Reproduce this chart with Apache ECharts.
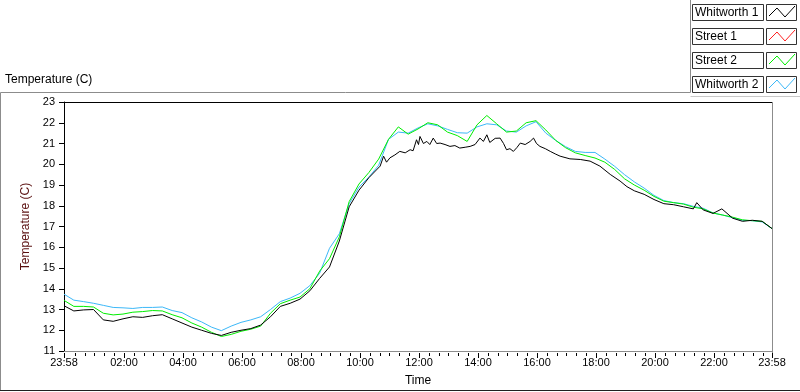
<!DOCTYPE html>
<html>
<head>
<meta charset="utf-8">
<script src="https://cdn.jsdelivr.net/npm/echarts@6/dist/echarts.min.js"></script>
<style>
html, body { margin: 0; padding: 0; background: #fff; }
#chart { width: 800px; height: 392px; }
</style>
</head>
<body>
<div id="chart"></div>
<script>
// minutes since 23:58 (start of log)
var minutes = [0, 20, 40, 60, 80, 100, 120, 140, 160, 180, 200, 220, 240, 260, 280, 300, 320, 340,
    360, 380, 400, 420, 440, 460, 480, 500, 520, 540, 560, 580, 600, 620, 640, 660, 680, 700,
    720, 740, 760, 780, 800, 820, 840, 860, 880, 900, 920, 940, 960, 980, 1000, 1020, 1040, 1060,
    1080, 1100, 1120, 1140, 1160, 1180, 1200, 1220, 1240, 1260, 1280, 1300, 1320, 1340, 1360, 1380,
    1400, 1420, 1440];

// Whitworth 1 is noisier, read at a finer step around midday
var whitworth1Minutes = [0, 20, 40, 60, 80, 100, 120, 140, 160, 180, 200, 220, 240, 260, 280, 300, 320, 340,
    360, 380, 400, 420, 440, 460, 480, 500, 520, 540, 560, 580, 600, 620,
    643, 650, 656, 663, 673, 683, 694, 704, 710, 717, 721, 724, 731, 738, 744, 751, 758, 765, 775, 785,
    795, 805, 816, 826, 836, 846, 853, 860, 866, 877, 887, 894, 900, 907, 914, 921, 928, 938, 948, 955,
    961, 968, 979, 989, 999, 1009, 1029, 1050, 1070, 1090, 1111, 1131, 1145,
    1160, 1180, 1200, 1220, 1240, 1260, 1280, 1287, 1300, 1320, 1338, 1360, 1380, 1400, 1420, 1440];

var whitworth1 = [13.18, 12.93, 12.98, 13.0, 12.5, 12.43, 12.55, 12.65, 12.62, 12.7, 12.75, 12.55, 12.35, 12.15, 12.0, 11.85, 11.75, 11.9,
    12.0, 12.08, 12.25, 12.65, 13.15, 13.3, 13.5, 13.9, 14.5, 15.05, 16.3, 17.95, 18.75, 19.35,
    19.91, 20.39, 20.1, 20.31, 20.45, 20.62, 20.55, 20.7, 20.65, 21.18, 20.95, 21.34, 21.0, 21.1, 20.95, 21.26, 21.0, 21.02, 20.95, 20.86,
    20.9, 20.78, 20.82, 20.86, 20.95, 21.26, 21.1, 21.42, 21.05, 21.25, 21.26, 21.0, 20.7, 20.75, 20.62, 20.8, 21.02, 20.95, 21.1, 21.26,
    21.0, 20.86, 20.75, 20.62, 20.5, 20.39, 20.26, 20.23, 20.15, 19.91, 19.51, 19.19, 18.92,
    18.72, 18.55, 18.3, 18.1, 18.05, 17.95, 17.85, 18.15, 17.8, 17.63, 17.85, 17.4, 17.25, 17.3, 17.25, 16.9];

// Street 1 is hidden under Street 2 in the picture - nothing red is visible
var street1 = [];

var street2 = [13.44, 13.15, 13.15, 13.12, 12.82, 12.74, 12.78, 12.87, 12.9, 12.95, 12.93, 12.75, 12.6, 12.35, 12.15, 11.9, 11.7, 11.8,
    11.95, 12.05, 12.2, 12.82, 13.28, 13.45, 13.6, 14.0, 14.85, 15.45, 16.5, 18.2, 19.05, 19.6, 20.25, 21.2, 21.8, 21.45,
    21.7, 22.0, 21.9, 21.55, 21.38, 21.1, 21.9, 22.35, 21.95, 21.55, 21.6, 22.0, 22.1, 21.65, 21.15, 20.8, 20.55, 20.42,
    20.3, 20.1, 19.75, 19.3, 19.0, 18.75, 18.45, 18.22, 18.15, 18.08, 17.93, 17.85, 17.65, 17.55, 17.45, 17.32,
    17.28, 17.25, 16.9];

var whitworth2 = [13.74, 13.45, 13.38, 13.3, 13.2, 13.1, 13.08, 13.05, 13.1, 13.1, 13.12, 12.95, 12.85, 12.6, 12.4, 12.15, 11.98, 12.2,
    12.38, 12.5, 12.65, 13.0, 13.38, 13.55, 13.78, 14.15, 14.75, 15.95, 16.65, 18.1, 18.9, 19.38, 19.95, 21.2, 21.55, 21.5,
    21.75, 21.95, 21.85, 21.68, 21.52, 21.5, 21.8, 21.95, 21.9, 21.6, 21.55, 21.85, 22.05, 21.5, 21.15, 20.85, 20.62, 20.57,
    20.57, 20.25, 19.9, 19.5, 19.15, 18.85, 18.5, 18.25, 18.15, 18.1, 17.97, 17.88, 17.65, 17.55, 17.42, 17.3,
    17.28, 17.22, 16.9];

var seriesNames = ['Whitworth 1', 'Street 1', 'Street 2', 'Whitworth 2'];
var seriesColors = ['#000000', '#ff2020', '#00ee00', '#3cb8f8'];

// tick labels at 23:58, 02:00 ... 22:00, 23:58
var majorTicks = [0, 122, 242, 362, 482, 602, 722, 842, 962, 1082, 1202, 1322, 1440];
var minorTicks = [];
for(var m = 22; m < 1440; m += 20) {
    minorTicks.push(m);
}

function clockLabel(v) {
    var t = (23 * 60 + 58 + Math.round(v)) % 1440;
    var h = Math.floor(t / 60);
    var mm = t % 60;
    return (h < 10 ? '0' : '') + h + ':' + (mm < 10 ? '0' : '') + mm;
}

function pairs(times, vals) {
    var out = [];
    for(var i = 0; i < vals.length; i++) {
        out.push([times[i], vals[i]]);
    }
    return out;
}

var fontName = 'Liberation Sans';
var gridL = 64, gridR = 772, gridT = 102, gridB = 353;

var graphics = [
    {type: 'text', left: 5, top: 74, style: {text: 'Temperature (C)', font: '12px ' + fontName, fill: '#000'}},
    // outer frame
    {type: 'line', shape: {x1: 0.5, y1: 92.5, x2: 690.5, y2: 92.5}, style: {stroke: '#8c8c8c', lineWidth: 1}},
    {type: 'line', shape: {x1: 0.5, y1: 92.5, x2: 0.5, y2: 390.5}, style: {stroke: '#8c8c8c', lineWidth: 1}},
    {type: 'line', shape: {x1: 0, y1: 390.5, x2: 800, y2: 390.5}, style: {stroke: '#202020', lineWidth: 1}},
    {type: 'line', shape: {x1: 690.5, y1: 0, x2: 690.5, y2: 92.5}, style: {stroke: '#8c8c8c', lineWidth: 1}},
    {type: 'line', shape: {x1: 690.5, y1: 96.5, x2: 800, y2: 96.5}, style: {stroke: '#c8c8c8', lineWidth: 1}},
    // plot border top / right
    {type: 'line', shape: {x1: gridL, y1: gridT + 0.5, x2: gridR, y2: gridT + 0.5}, style: {stroke: '#000', lineWidth: 1}},
    {type: 'line', shape: {x1: gridR + 0.5, y1: gridT, x2: gridR + 0.5, y2: gridB}, style: {stroke: '#8c8c8c', lineWidth: 1}}
];

for(var k = 0; k < seriesNames.length; k++) {
    var boxTop = 4 + k * 24;
    graphics.push({type: 'rect', shape: {x: 692.5, y: boxTop + 0.5, width: 71, height: 16},
        style: {fill: '#fff', stroke: '#333', lineWidth: 1}});
    graphics.push({type: 'text', x: 695, y: boxTop + 9, style: {text: seriesNames[k], font: '12px ' + fontName,
        fill: '#000', verticalAlign: 'middle'}});
    graphics.push({type: 'rect', shape: {x: 766.5, y: boxTop + 0.5, width: 30, height: 16},
        style: {fill: '#fff', stroke: '#333', lineWidth: 1}});
    graphics.push({type: 'polyline', shape: {points: [[769, boxTop + 12], [777, boxTop + 4], [785, boxTop + 13], [795, boxTop + 2]]},
        style: {stroke: seriesColors[k], lineWidth: 1, fill: null}});
}

var seriesData = [whitworth1, street1, street2, whitworth2];
var seriesTimes = [whitworth1Minutes, minutes, minutes, minutes];
var seriesZ = [5, 2, 4, 3];
var series = [];
for(var s = 0; s < seriesData.length; s++) {
    series.push({
        name: seriesNames[s],
        type: 'line',
        data: pairs(seriesTimes[s], seriesData[s]),
        showSymbol: false,
        symbol: 'none',
        z: seriesZ[s],
        lineStyle: {color: seriesColors[s], width: 1},
        itemStyle: {color: seriesColors[s]}
    });
}

var chart = echarts.init(document.getElementById('chart'), null, {renderer: 'canvas'});
chart.setOption({
    animation: false,
    backgroundColor: '#fff',
    textStyle: {fontFamily: fontName},
    grid: {left: gridL, right: 800 - gridR, top: gridT, bottom: 392 - gridB, containLabel: false},
    xAxis: {
        type: 'value',
        min: 0,
        max: 1440,
        name: 'Time',
        nameLocation: 'middle',
        nameGap: 24,
        nameTextStyle: {color: '#000', fontSize: 12, fontFamily: fontName},
        axisLine: {show: true, lineStyle: {color: '#8c8c8c', width: 1}},
        axisTick: {show: false},
        axisLabel: {customValues: majorTicks, formatter: clockLabel, margin: 6, color: '#000', fontSize: 11, fontFamily: fontName},
        splitLine: {show: false}
    },
    yAxis: {
        type: 'value',
        min: 11,
        max: 23,
        interval: 1,
        name: 'Temperature (C)',
        nameLocation: 'middle',
        nameGap: 27,
        nameRotate: 90,
        nameTextStyle: {color: '#5a0f0f', fontSize: 12, fontFamily: fontName},
        axisLine: {show: true, lineStyle: {color: '#000', width: 1}},
        axisTick: {show: true, length: 5, lineStyle: {color: '#000', width: 1}},
        axisLabel: {margin: 9, color: '#000', fontSize: 11, fontFamily: fontName},
        splitLine: {show: false}
    },
    graphic: graphics,
    series: series
});

// time ticks under the x axis, placed with the axis scale
var tickGraphics = [];
function addTicks(list, len, width) {
    for(var i = 0; i < list.length; i++) {
        var px = Math.round(chart.convertToPixel({xAxisIndex: 0}, list[i]));
        tickGraphics.push({type: 'line', shape: {x1: px + 0.5, y1: gridB, x2: px + 0.5, y2: gridB + len},
            style: {stroke: '#000', lineWidth: width}});
    }
}
addTicks(minorTicks, 3, 1);
addTicks(majorTicks, 5, 1);
chart.setOption({graphic: graphics.concat(tickGraphics)});
</script>
</body>
</html>
